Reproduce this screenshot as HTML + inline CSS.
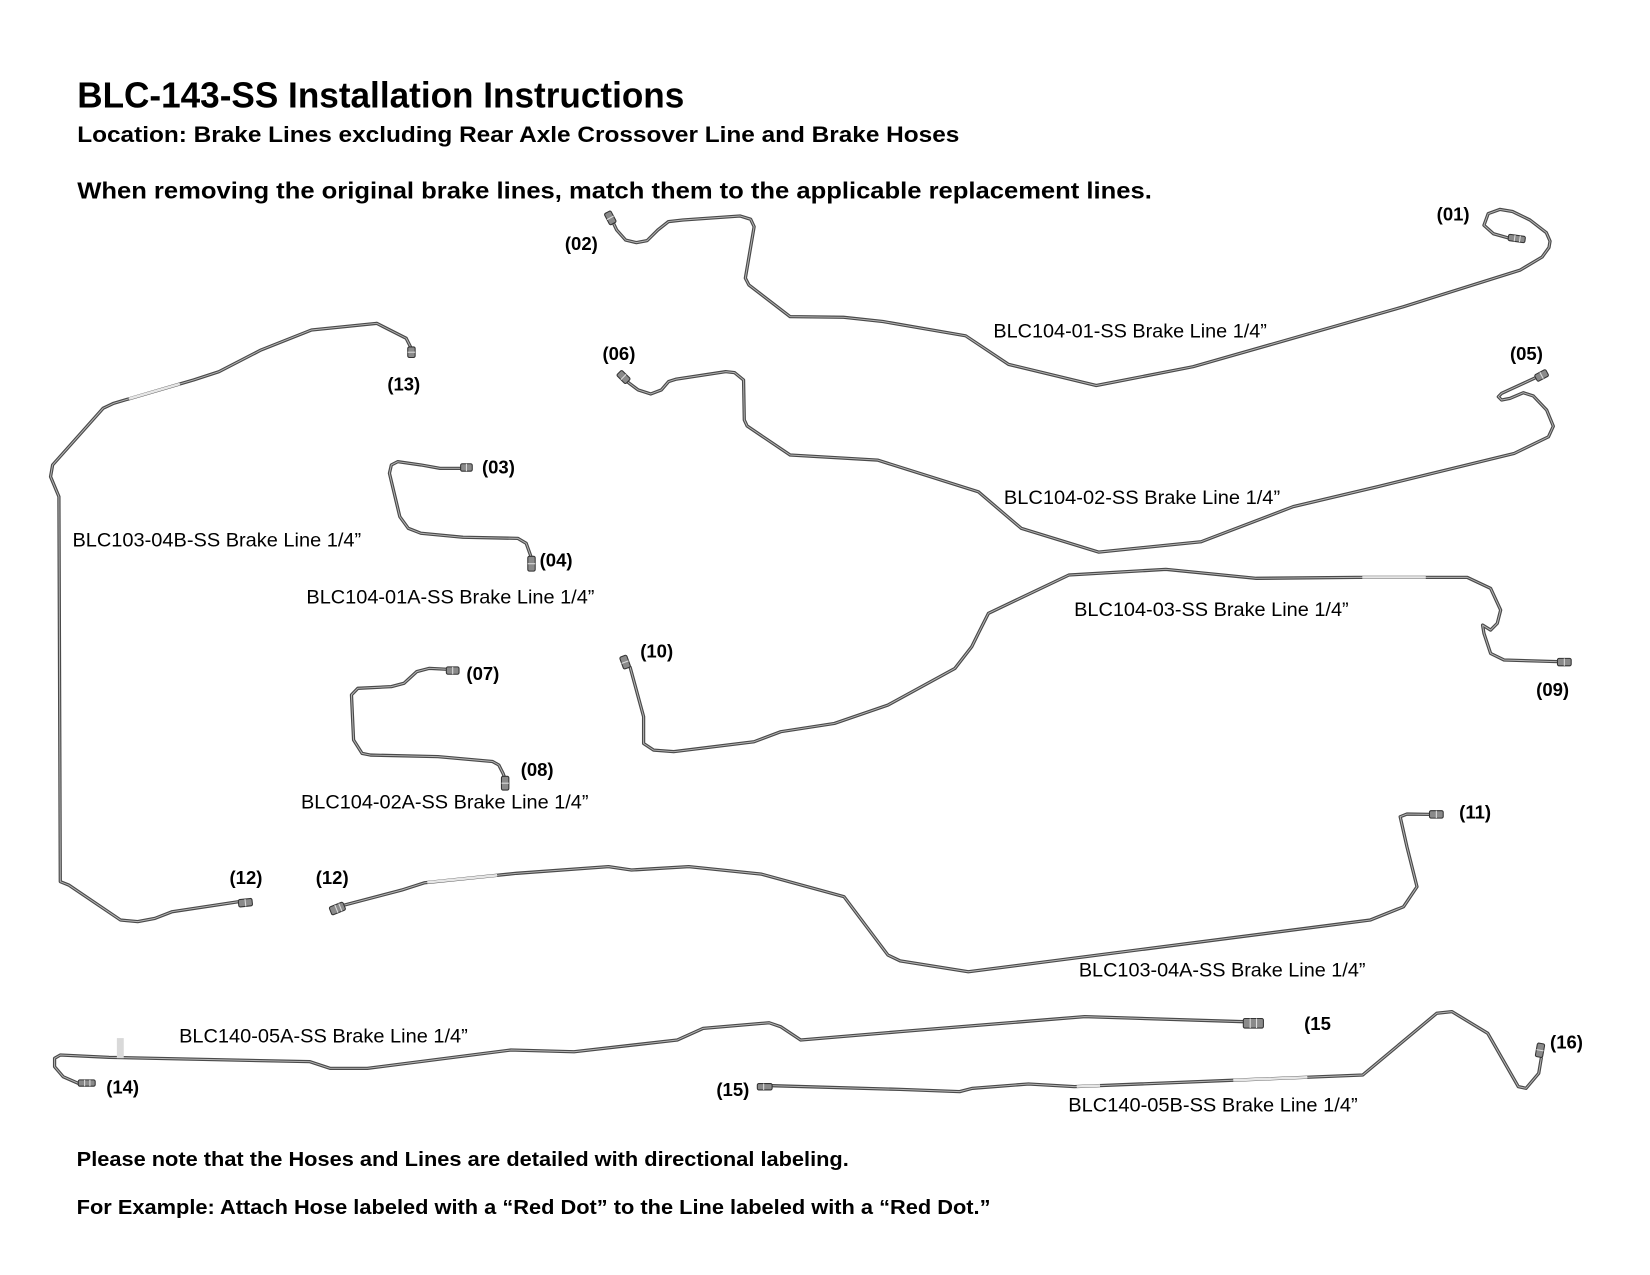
<!DOCTYPE html>
<html>
<head>
<meta charset="utf-8">
<style>
  html, body { margin: 0; padding: 0; background: #ffffff; }
  svg { display: block; }
  .t { fill: none; stroke: #4a4a4a; stroke-width: 3.1; stroke-linejoin: round; stroke-linecap: round; }
  .h { fill: none; stroke: #b8b8b8; stroke-width: 0.9; stroke-linejoin: round; stroke-linecap: round; }
  .w { fill: none; stroke: #e6e6e6; stroke-width: 2.4; stroke-linecap: butt; }
  .b { font-family: "Liberation Sans", Arial, sans-serif; font-weight: bold; fill: #000; }
  .r { font-family: "Liberation Sans", Arial, sans-serif; font-weight: normal; fill: #000; }
  .f { fill: #8a8a8a; stroke: #333; stroke-width: 1; }
</style>
</head>
<body>
<svg width="1650" height="1275" viewBox="0 0 1560 1205.5" preserveAspectRatio="none" xmlns="http://www.w3.org/2000/svg">
  <rect x="0" y="0" width="1560" height="1205.5" fill="#ffffff"/>

  <!-- Header text -->
  <text class="b" x="73" y="101.8" font-size="34.4" textLength="574" lengthAdjust="spacingAndGlyphs">BLC-143-SS Installation Instructions</text>
  <text class="b" x="73" y="134.5" font-size="20.6" textLength="834" lengthAdjust="spacingAndGlyphs">Location: Brake Lines excluding Rear Axle Crossover Line and Brake Hoses</text>
  <text class="b" x="73" y="187.5" font-size="22" textLength="1016" lengthAdjust="spacingAndGlyphs">When removing the original brake lines, match them to the applicable replacement lines.</text>

  <!-- Footer text -->
  <text class="b" x="72.5" y="1102.4" font-size="18.9" textLength="730" lengthAdjust="spacingAndGlyphs">Please note that the Hoses and Lines are detailed with directional labeling.</text>
  <text class="b" x="72.5" y="1147.8" font-size="18.9" textLength="864" lengthAdjust="spacingAndGlyphs">For Example: Attach Hose labeled with a “Red Dot” to the Line labeled with a “Red Dot.”</text>

  <!-- ===== Tubes ===== -->
  <!-- P1 BLC104-01-SS (02 -> 01) -->
  <polyline class="t" points="580,211 583,217.4 591.5,227 601.7,229.4 611.8,227.5 622,217.4 632,209.5 645.6,208 699.6,204.2 709.7,207.3 713,214.3 704.7,263 708,269.4 747,299.4 797.5,300 834.7,304 913,317.5 953.5,344.5 1036.5,364.5 1128,346.7 1327,290 1437,255.5 1458,243 1464.5,234 1465.5,228 1462,220 1446.5,208 1430,200 1418,198 1407,202 1403,213 1412,221 1426,225"/>
  <polyline class="h" points="580,211 583,217.4 591.5,227 601.7,229.4 611.8,227.5 622,217.4 632,209.5 645.6,208 699.6,204.2 709.7,207.3 713,214.3 704.7,263 708,269.4 747,299.4 797.5,300 834.7,304 913,317.5 953.5,344.5 1036.5,364.5 1128,346.7 1327,290 1437,255.5 1458,243 1464.5,234 1465.5,228 1462,220 1446.5,208 1430,200 1418,198 1407,202 1403,213 1412,221 1426,225"/>

  <!-- P2 BLC104-02-SS (06 -> 05) -->
  <polyline class="t" points="592,360 595,362.4 603.4,368.7 615.2,372.5 625.3,368.7 632.1,360.8 638.8,358.6 686.1,351.4 694.5,352.3 703,359.3 703.7,397 706.4,402.8 747,430.2 829.7,435 925,465 965.5,499.5 1038.6,522 1135.6,512.2 1222.7,479 1302.3,460.2 1431.6,428.7 1464,413 1468.6,403 1462.3,387.7 1449.7,374.4 1440.2,371.3 1427.6,376.7 1419.7,378.2 1416.6,375.1 1419.7,371.9 1440.2,362.5 1452,357"/>
  <polyline class="h" points="592,360 595,362.4 603.4,368.7 615.2,372.5 625.3,368.7 632.1,360.8 638.8,358.6 686.1,351.4 694.5,352.3 703,359.3 703.7,397 706.4,402.8 747,430.2 829.7,435 925,465 965.5,499.5 1038.6,522 1135.6,512.2 1222.7,479 1302.3,460.2 1431.6,428.7 1464,413 1468.6,403 1462.3,387.7 1449.7,374.4 1440.2,371.3 1427.6,376.7 1419.7,378.2 1416.6,375.1 1419.7,371.9 1440.2,362.5 1452,357"/>

  <!-- P3 BLC104-03-SS (10 -> 09) -->
  <polyline class="t" points="595.8,631 608.5,677.6 608.5,703 618,709.2 637,710.7 712.9,701.3 738.2,691.8 788.9,684 839.5,666.6 902.8,632 918.7,611.5 925,598.8 934.5,579.9 1010.5,543.7 1102.3,538.3 1187.7,546.8 1282.7,545.9 1387.2,545.9 1409.3,556.3 1418.8,576.8 1415.6,589.4 1409.3,595.7 1401.7,591 1403,598.8 1409.3,617.8 1422,624 1473,625.6"/>
  <polyline class="h" points="595.8,631 608.5,677.6 608.5,703 618,709.2 637,710.7 712.9,701.3 738.2,691.8 788.9,684 839.5,666.6 902.8,632 918.7,611.5 925,598.8 934.5,579.9 1010.5,543.7 1102.3,538.3 1187.7,546.8 1282.7,545.9 1387.2,545.9 1409.3,556.3 1418.8,576.8 1415.6,589.4 1409.3,595.7 1401.7,591 1403,598.8 1409.3,617.8 1422,624 1473,625.6"/>
  <line class="w" x1="1288" y1="545.9" x2="1348" y2="545.9"/>

  <!-- P4 BLC103-04A-SS (12 -> 11) -->
  <polyline class="t" points="325.6,855.7 379.9,841.5 401.6,834.6 488.4,825.7 575.3,819.4 597,822.6 651.2,819.4 720,826.5 798,847.8 839.5,903 851,908.5 915.5,918.8 1295.4,869.9 1327,857.3 1339.7,838.4 1330.2,800.6 1323.8,772.2 1330.2,769.7 1352,770"/>
  <polyline class="h" points="325.6,855.7 379.9,841.5 401.6,834.6 488.4,825.7 575.3,819.4 597,822.6 651.2,819.4 720,826.5 798,847.8 839.5,903 851,908.5 915.5,918.8 1295.4,869.9 1327,857.3 1339.7,838.4 1330.2,800.6 1323.8,772.2 1330.2,769.7 1352,770"/>
  <polyline class="w" points="404,834.3 470,827.6"/>

  <!-- P5 BLC103-04B-SS (13 -> 12 left) -->
  <polyline class="t" points="388,327.7 384,319.8 356.2,305.7 294.5,312 246.8,330.9 207,351.4 183.1,359.2 107.5,381.3 97.5,386 49.75,439.6 47.8,450.7 55.7,469.6 57,833.6 65,836.8 114,869.9 130.2,871.4 146.5,868.3 162.8,862 226,852.5"/>
  <polyline class="h" points="388,327.7 384,319.8 356.2,305.7 294.5,312 246.8,330.9 207,351.4 183.1,359.2 107.5,381.3 97.5,386 49.75,439.6 47.8,450.7 55.7,469.6 57,833.6 65,836.8 114,869.9 130.2,871.4 146.5,868.3 162.8,862 226,852.5"/>
  <polyline class="w" points="122,377 170,363"/>

  <!-- P6 BLC104-01A-SS (03 -> 04) -->
  <polyline class="t" points="436,442.8 416,442.8 398,439.6 376,436.5 370,439.6 368.2,447.5 378,488.5 386,499.5 398,504.2 437.8,508 489.5,509 497.5,513.7 502.3,527"/>
  <polyline class="h" points="436,442.8 416,442.8 398,439.6 376,436.5 370,439.6 368.2,447.5 378,488.5 386,499.5 398,504.2 437.8,508 489.5,509 497.5,513.7 502.3,527"/>

  <!-- P7 BLC104-02A-SS (07 -> 08) -->
  <polyline class="t" points="422,632.8 406,631.9 394,635 382,646 370,649.2 338.3,650.8 332.3,657 334.3,699.7 342.3,712.3 350.2,713.9 414,715.4 465.7,720 471.6,723.3 475.6,731.2 477,735"/>
  <polyline class="h" points="422,632.8 406,631.9 394,635 382,646 370,649.2 338.3,650.8 332.3,657 334.3,699.7 342.3,712.3 350.2,713.9 414,715.4 465.7,720 471.6,723.3 475.6,731.2 477,735"/>

  <!-- P8 BLC140-05A-SS (14 -> 15) -->
  <polyline class="t" points="74,1024.3 59.7,1018 51.6,1008.5 51.6,1000.6 57,997.5 103.1,999.7 293,1003.8 312,1010.1 347.3,1010.1 483,992.8 542.7,994.4 640.4,983.3 664.8,972.3 727.2,967 738,970.7 757,983.3 851,975.4 1025.5,961.2 1176,966"/>
  <polyline class="h" points="74,1024.3 59.7,1018 51.6,1008.5 51.6,1000.6 57,997.5 103.1,999.7 293,1003.8 312,1010.1 347.3,1010.1 483,992.8 542.7,994.4 640.4,983.3 664.8,972.3 727.2,967 738,970.7 757,983.3 851,975.4 1025.5,961.2 1176,966"/>
  <rect x="110.5" y="981.5" width="6.5" height="19" fill="#d9d9d9"/>

  <!-- P9 BLC140-05B-SS (15 -> 16) -->
  <polyline class="t" points="730,1026.5 851,1030 907.3,1032.1 919.4,1029 972.4,1024.9 1015.9,1027.4 1288.4,1016.4 1358.4,958 1372.8,956.5 1406.6,977 1435.5,1027.4 1442.8,1029 1454.8,1014.8 1457.2,1000.6"/>
  <polyline class="h" points="730,1026.5 851,1030 907.3,1032.1 919.4,1029 972.4,1024.9 1015.9,1027.4 1288.4,1016.4 1358.4,958 1372.8,956.5 1406.6,977 1435.5,1027.4 1442.8,1029 1454.8,1014.8 1457.2,1000.6"/>
  <line class="w" x1="1166" y1="1021.3" x2="1236" y2="1018.5"/>
  <line class="w" x1="1018" y1="1027.3" x2="1040" y2="1026.4"/>

  <!-- ===== Fittings ===== -->
  <g transform="translate(577,206) rotate(62)"><rect class="f" x="-6" y="-3.5" width="12" height="7" rx="1.5"/><line x1="0" y1="-3.5" x2="0" y2="3.5" stroke="#ddd" stroke-width="1"/></g>
  <g transform="translate(1434,225.5) rotate(8)"><rect class="f" x="-8" y="-3" width="16" height="6" rx="1.5"/><line x1="-2" y1="-3" x2="-2" y2="3" stroke="#ddd" stroke-width="1"/><line x1="3" y1="-3" x2="3" y2="3" stroke="#ddd" stroke-width="1"/></g>
  <g transform="translate(589.5,356.5) rotate(45)"><rect class="f" x="-6" y="-3.5" width="12" height="7" rx="1.5"/><line x1="0" y1="-3.5" x2="0" y2="3.5" stroke="#ddd" stroke-width="1"/></g>
  <g transform="translate(1457.5,355) rotate(-28)"><rect class="f" x="-6" y="-3.5" width="12" height="7" rx="1.5"/><line x1="0" y1="-3.5" x2="0" y2="3.5" stroke="#ddd" stroke-width="1"/></g>
  <g transform="translate(591,626) rotate(70)"><rect class="f" x="-6" y="-3.5" width="12" height="7" rx="1.5"/><line x1="0" y1="-3.5" x2="0" y2="3.5" stroke="#ddd" stroke-width="1"/></g>
  <g transform="translate(1479,626)"><rect class="f" x="-6.5" y="-3.5" width="13" height="7" rx="1.5"/><line x1="0" y1="-3.5" x2="0" y2="3.5" stroke="#ddd" stroke-width="1"/></g>
  <g transform="translate(319,859) rotate(-22)"><rect class="f" x="-7" y="-4" width="14" height="8" rx="1.5"/><line x1="-1" y1="-4" x2="-1" y2="4" stroke="#ddd" stroke-width="1"/><line x1="3" y1="-4" x2="3" y2="4" stroke="#ddd" stroke-width="1"/></g>
  <g transform="translate(1358,770)"><rect class="f" x="-6.5" y="-3.5" width="13" height="7" rx="1.5"/><line x1="0" y1="-3.5" x2="0" y2="3.5" stroke="#ddd" stroke-width="1"/></g>
  <g transform="translate(389,333) rotate(90)"><rect class="f" x="-5" y="-3.5" width="10" height="7" rx="1.5"/><line x1="0" y1="-3.5" x2="0" y2="3.5" stroke="#ddd" stroke-width="1"/></g>
  <g transform="translate(232,853.5) rotate(-6)"><rect class="f" x="-6.5" y="-3.5" width="13" height="7" rx="1.5"/><line x1="0" y1="-3.5" x2="0" y2="3.5" stroke="#ddd" stroke-width="1"/></g>
  <g transform="translate(441,442)"><rect class="f" x="-5.5" y="-3.5" width="11" height="7" rx="1.5"/><line x1="0" y1="-3.5" x2="0" y2="3.5" stroke="#ddd" stroke-width="1"/></g>
  <g transform="translate(502.5,533) rotate(90)"><rect class="f" x="-7" y="-3.5" width="14" height="7" rx="1.5"/><line x1="0" y1="-3.5" x2="0" y2="3.5" stroke="#ddd" stroke-width="1"/></g>
  <g transform="translate(428,634)"><rect class="f" x="-6" y="-3.5" width="12" height="7" rx="1.5"/><line x1="0" y1="-3.5" x2="0" y2="3.5" stroke="#ddd" stroke-width="1"/></g>
  <g transform="translate(477.6,740.5) rotate(90)"><rect class="f" x="-6.5" y="-3.5" width="13" height="7" rx="1.5"/><line x1="0" y1="-3.5" x2="0" y2="3.5" stroke="#ddd" stroke-width="1"/></g>
  <g transform="translate(82,1024)"><rect class="f" x="-8" y="-3" width="16" height="6" rx="1.5"/><line x1="-2" y1="-3" x2="-2" y2="3" stroke="#ddd" stroke-width="1"/><line x1="3" y1="-3" x2="3" y2="3" stroke="#ddd" stroke-width="1"/></g>
  <g transform="translate(1185,967.5)"><rect class="f" x="-9.5" y="-4.5" width="19" height="9" rx="1.5"/><line x1="-3" y1="-4.5" x2="-3" y2="4.5" stroke="#ddd" stroke-width="1"/><line x1="3" y1="-4.5" x2="3" y2="4.5" stroke="#ddd" stroke-width="1"/></g>
  <g transform="translate(723,1027.5)"><rect class="f" x="-7" y="-3" width="14" height="6" rx="1.5"/><line x1="-1" y1="-3" x2="-1" y2="3" stroke="#ddd" stroke-width="1"/></g>
  <g transform="translate(1456,993) rotate(-80)"><rect class="f" x="-6.5" y="-3.5" width="13" height="7" rx="1.5"/><line x1="0" y1="-3.5" x2="0" y2="3.5" stroke="#ddd" stroke-width="1"/></g>

  <!-- ===== Part number labels ===== -->
  <g class="b" font-size="17.5">
    <text x="1358.3" y="208.6">(01)</text>
    <text x="534.1" y="236.4">(02)</text>
    <text x="1427.6" y="340.4">(05)</text>
    <text x="569.6" y="340.4">(06)</text>
    <text x="366.2" y="369.3">(13)</text>
    <text x="455.7" y="447.5">(03)</text>
    <text x="510.2" y="535.8">(04)</text>
    <text x="441" y="643">(07)</text>
    <text x="492.3" y="733.7">(08)</text>
    <text x="605.3" y="621.5">(10)</text>
    <text x="1452.4" y="658.1">(09)</text>
    <text x="1379.6" y="773.8">(11)</text>
    <text x="217" y="835.8">(12)</text>
    <text x="298.5" y="835.8">(12)</text>
    <text x="100.4" y="1033.8">(14)</text>
    <text x="677.3" y="1036.3">(15)</text>
    <text x="1233" y="973.8">(15</text>
    <text x="1465.5" y="991.2">(16)</text>
  </g>

  <!-- ===== Line labels ===== -->
  <g class="r" font-size="18.5">
    <text x="939.2" y="319" textLength="258.6" lengthAdjust="spacingAndGlyphs">BLC104-01-SS Brake Line 1/4”</text>
    <text x="949.1" y="476.6" textLength="261.2" lengthAdjust="spacingAndGlyphs">BLC104-02-SS Brake Line 1/4”</text>
    <text x="68.5" y="516.8" textLength="273" lengthAdjust="spacingAndGlyphs">BLC103-04B-SS Brake Line 1/4”</text>
    <text x="289.7" y="570.4" textLength="272.3" lengthAdjust="spacingAndGlyphs">BLC104-01A-SS Brake Line 1/4”</text>
    <text x="284.6" y="764.3" textLength="271.8" lengthAdjust="spacingAndGlyphs">BLC104-02A-SS Brake Line 1/4”</text>
    <text x="1015.5" y="582.5" textLength="259.6" lengthAdjust="spacingAndGlyphs">BLC104-03-SS Brake Line 1/4”</text>
    <text x="1020" y="923.5" textLength="271" lengthAdjust="spacingAndGlyphs">BLC103-04A-SS Brake Line 1/4”</text>
    <text x="169.3" y="985.9" textLength="273" lengthAdjust="spacingAndGlyphs">BLC140-05A-SS Brake Line 1/4”</text>
    <text x="1010" y="1051" textLength="273.6" lengthAdjust="spacingAndGlyphs">BLC140-05B-SS Brake Line 1/4”</text>
  </g>
</svg>
</body>
</html>
